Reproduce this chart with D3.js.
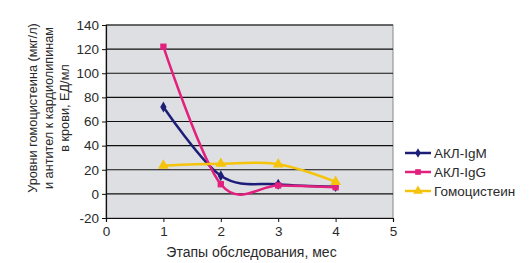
<!DOCTYPE html>
<html>
<head>
<meta charset="utf-8">
<script src="https://cdn.jsdelivr.net/npm/d3@7"></script>
<style>
  body { margin: 0; background: #fff; }
  text { font-family: "Liberation Sans", Arial, sans-serif; fill: #2a2a2a; }
</style>
</head>
<body>
<div id="chart"></div>
<script>
// stages of the survey, months
var stages = [1, 2, 3, 4];
var iGM = [72, 15, 8, 6];
var iGG = [122, 8, 7, 5.5];
var homocyst = [23.5, 25, 24.5, 10];
var seriesNames = ["АКЛ-IgM", "АКЛ-IgG", "Гомоцистеин"];
var yTicks = [-20, 0, 20, 40, 60, 80, 100, 120, 140];
var xTicks = [0, 1, 2, 3, 4, 5];

var W = 531, H = 263;
var margin = {top: 25, left: 106, right: 138, bottom: 45};
var width = W - margin.left - margin.right;
var height = H - margin.top - margin.bottom;

var svg = d3.select("#chart").append("svg")
  .attr("width", W).attr("height", H);

var g = svg.append("g")
  .attr("transform", "translate(" + margin.left + "," + margin.top + ")");

var x = d3.scaleLinear().domain([0, 5]).range([0, width]);
var y = d3.scaleLinear().domain([-20, 140]).range([height, 0]);

// plot area
g.append("rect")
  .attr("width", width).attr("height", height)
  .attr("fill", "#dedfe2").attr("stroke", "#888").attr("stroke-width", 1);

// gridlines
g.selectAll(".grid").data(yTicks.slice(1, -1))
  .enter().append("line")
  .attr("x1", 0).attr("x2", width)
  .attr("y1", function(d) { return y(d); })
  .attr("y2", function(d) { return y(d); })
  .attr("stroke", "#111").attr("stroke-width", 1.2);
g.append("line").attr("x1", 0).attr("x2", width).attr("y1", 0).attr("y2", 0)
  .attr("stroke", "#111").attr("stroke-width", 1.2);

// axes
var fmt = function(d) { return String(d); };
var yAxis = d3.axisLeft(y).tickValues(yTicks).tickSize(4).tickPadding(3).tickFormat(fmt);
var xAxis = d3.axisBottom(x).tickValues(xTicks).tickSize(4).tickPadding(4).tickFormat(fmt);

var ya = g.append("g").call(yAxis);
var xa = g.append("g").attr("transform", "translate(0," + height + ")").call(xAxis);
[ya, xa].forEach(function(a) {
  a.select(".domain").attr("stroke", "#111").attr("stroke-width", 1.2);
  a.selectAll(".tick line").attr("stroke", "#111");
  a.selectAll("text").style("font-size", "13.5px").attr("fill", "#2a2a2a")
    .style("font-family", "'Liberation Sans', Arial, sans-serif");
});

// series
var series = [
  {name: seriesNames[0], values: iGM, color: "#1c1e78", sym: d3.symbolDiamond, size: 34},
  {name: seriesNames[1], values: iGG, color: "#e2207e", sym: d3.symbolSquare, size: 40},
  {name: seriesNames[2], values: homocyst, color: "#f4c30a", sym: d3.symbolTriangle, size: 50}
];

var line = d3.line()
  .x(function(d) { return x(d[0]); })
  .y(function(d) { return y(d[1]); })
  .curve(d3.curveCatmullRom.alpha(0));

series.forEach(function(s) {
  var pts = stages.map(function(st, i) { return [st, s.values[i]]; });
  g.append("path").datum(pts)
    .attr("d", line)
    .attr("fill", "none").attr("stroke", s.color).attr("stroke-width", 2.5);
  g.selectAll(null).data(pts).enter().append("path")
    .attr("d", d3.symbol().type(s.sym).size(s.size))
    .attr("transform", function(d) { return "translate(" + x(d[0]) + "," + y(d[1]) + ")"; })
    .attr("fill", s.color);
});

// legend
var legend = svg.append("g").attr("transform", "translate(405,153)");
series.forEach(function(s, i) {
  var lg = legend.append("g").attr("transform", "translate(0," + (i * 19) + ")");
  lg.append("line").attr("x1", 0).attr("x2", 26).attr("y1", 0).attr("y2", 0)
    .attr("stroke", s.color).attr("stroke-width", 2.5);
  lg.append("path").attr("d", d3.symbol().type(s.sym).size(s.size * 0.8))
    .attr("transform", "translate(13,0)").attr("fill", s.color);
  lg.append("text").attr("x", 29).attr("y", 4.5)
    .style("font-size", "13.5px").text(s.name);
});

// axis titles
svg.append("text")
  .attr("x", margin.left + width / 2 + 2).attr("y", 257)
  .attr("text-anchor", "middle").style("font-size", "14px")
  .text("Этапы обследования, мес");

var yTitle = svg.append("text")
  .attr("transform", "translate(0,108) rotate(-90)")
  .attr("text-anchor", "middle").style("font-size", "12.7px");
["Уровни гомоцистеина (мкг/л)", "и антител к кардиолипинам", "в крови, ЕД/мл"].forEach(function(t, i) {
  yTitle.append("tspan").attr("x", 0).attr("y", 37 + i * 16).text(t);
});
</script>
</body>
</html>
